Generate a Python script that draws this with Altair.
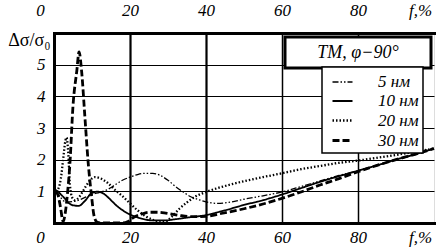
import altair as alt
import pandas as pd

# ---- data ----
series_names = ["5 нм", "10 нм", "20 нм", "30 нм"]

f5 = [0.5, 1.5, 2.5, 3.5, 5, 6.5, 8, 10, 12, 14, 16, 18, 20, 22, 24, 26, 28, 30, 32, 34, 36, 38, 40, 43, 46, 50, 55, 60, 65, 70, 75, 80, 85, 90, 95, 100]
v5 = [1.0, 0.85, 0.7, 0.66, 0.68, 0.72, 0.8, 0.9, 0.97, 1.05, 1.2, 1.35, 1.45, 1.53, 1.57, 1.57, 1.5, 1.35, 1.15, 0.98, 0.83, 0.74, 0.67, 0.62, 0.65, 0.75, 0.86, 0.98, 1.15, 1.33, 1.5, 1.65, 1.82, 2.0, 2.17, 2.35]

f10 = [0.3, 1, 2, 3, 4, 5, 6.5, 8, 10, 11.5, 13, 14.5, 16, 17.5, 19, 21, 23, 26, 29, 32, 35, 40, 45, 50, 55, 60, 65, 70, 75, 80, 85, 90, 95, 100]
v10 = [1.05, 1.0, 0.88, 0.75, 0.62, 0.56, 0.54, 0.68, 0.95, 0.99, 0.93, 0.78, 0.6, 0.45, 0.33, 0.22, 0.14, 0.08, 0.08, 0.12, 0.17, 0.25, 0.4, 0.57, 0.72, 0.9, 1.1, 1.3, 1.48, 1.65, 1.82, 2.0, 2.17, 2.35]

f20 = [0.5, 1.2, 1.8, 2.4, 3.0, 3.3, 3.7, 4.2, 4.8, 5.5, 6.5, 7.5, 8.5, 9.5, 10.8, 12, 14, 16, 18, 20, 22, 24, 26, 28, 29.5, 31, 33, 35, 37, 40, 43, 46, 50, 55, 60, 65, 70, 75, 80, 85, 90, 95, 100]
v20 = [1.0, 1.1, 1.4, 2.0, 2.6, 2.7, 2.3, 1.2, 0.8, 0.72, 0.8, 0.98, 1.18, 1.35, 1.45, 1.42, 1.28, 1.05, 0.85, 0.62, 0.4, 0.22, 0.1, 0.03, 0.05, 0.2, 0.45, 0.65, 0.82, 0.98, 1.1, 1.2, 1.32, 1.45, 1.57, 1.7, 1.8, 1.9, 1.97, 2.06, 2.15, 2.25, 2.35]

f30 = [0.3, 1, 1.7, 2.4, 3.0, 3.6, 4.2, 5, 6, 6.6, 7.3, 8.1, 9, 9.9, 10.5, 11.3, 12.5, 15, 18, 19.5, 21, 23, 25, 27, 29, 31, 33, 36, 40, 44, 50, 55, 60, 65, 70, 75, 80, 85, 90, 95, 100]
v30 = [1.0, 0.9, 0.5, 0.05, 0.35, 1.0, 1.9, 3.7, 4.8, 5.4, 4.75, 3.4, 1.9, 0.83, 0.25, 0.03, 0.0, 0.0, 0.0, 0.05, 0.18, 0.28, 0.34, 0.34, 0.32, 0.28, 0.24, 0.2, 0.21, 0.3, 0.45, 0.6, 0.78, 0.98, 1.2, 1.4, 1.62, 1.82, 2.0, 2.17, 2.35]

x_ticks = [0, 20, 40, 60, 80, 100]
y_ticks = [1, 2, 3, 4, 5]
x_unit_label = "f,%"
y_title = "Δσ/σ₀"
box_title = "TM, φ−90°"

rows = []
for name, fs, vs in zip(series_names, [f5, f10, f20, f30], [v5, v10, v20, v30]):
    for fv, vv in zip(fs, vs):
        rows.append({"f": fv, "v": vv, "s": name})
df = pd.DataFrame(rows)

FONT = "Liberation Serif"
label_expr = f"datum.value == 100 ? '{x_unit_label}' : datum.label"
edge_offset = {"condition": {"test": "datum.value === 0 || datum.value === 100", "value": -14}, "value": 0}

xscale = alt.Scale(domain=[0, 100], nice=False)
yscale = alt.Scale(domain=[0, 6], nice=False)

dash_range = [[6, 2, 1.5, 2, 1.5, 2], [1, 0], [1.5, 2], [7, 3]]
width_range = [1.3, 2.8, 1.4, 1.6]

leg = alt.Legend(
    orient="none", legendX=268, legendY=34, title=None,
    symbolType="stroke", symbolSize=400, symbolStrokeColor="black", symbolOffset=5,
    labelFont=FONT, labelFontStyle="italic", labelFontSize=17, labelColor="black",
    labelOffset=24, padding=4, rowPadding=-2,
    strokeColor="black", fillColor="white",
)

y_axis = alt.Axis(
    orient="left", values=y_ticks, ticks=False,
    labelFont=FONT, labelFontStyle="italic", labelFontSize=17, labelColor="black",
    labelPadding=9, domainColor="black", domainWidth=3, domainCap="square",
    grid=True, gridColor="black", gridWidth=1.2,
    title=y_title, titleAngle=0, titleX=-4, titleY=7, titleAlign="right",
    titleBaseline="middle", titleFont=FONT, titleFontSize=18, titleFontWeight="normal",
    titleColor="black",
)

lines = alt.Chart(df).mark_line(color="black", interpolate="monotone").encode(
    x=alt.X("f:Q", scale=xscale, axis=alt.Axis(
        orient="bottom", values=x_ticks, labelExpr=label_expr, ticks=False,
        labelFont=FONT, labelFontStyle="italic", labelFontSize=17, labelColor="black",
        labelPadding=6, labelFlush=False, labelAlign="center", labelOffset=edge_offset,
        domainColor="black", domainWidth=3, domainCap="square",
        grid=True, gridColor="black",
        gridOpacity={"condition": {"test": "datum.value === 0 || datum.value === 100", "value": 0}, "value": 1},
        gridWidth={"condition": {"test": "datum.value <= 40", "value": 2.2}, "value": 1.5},
        title=None, labelOverlap=False,
    )),
    y=alt.Y("v:Q", scale=yscale, axis=y_axis),
    strokeDash=alt.StrokeDash("s:N", sort=series_names,
                              scale=alt.Scale(domain=series_names, range=dash_range), legend=leg),
    strokeWidth=alt.StrokeWidth("s:N", sort=series_names,
                                scale=alt.Scale(domain=series_names, range=width_range), legend=leg),
    detail="s:N",
)

top_axis = alt.Chart(df).mark_line(strokeOpacity=0).encode(
    x=alt.X("f:Q", scale=xscale, axis=alt.Axis(
        orient="top", values=x_ticks, labelExpr=label_expr, ticks=False,
        labelFont=FONT, labelFontStyle="italic", labelFontSize=17, labelColor="black",
        labelPadding=14, labelFlush=False, labelAlign="center", labelOffset=edge_offset,
        domainColor="black", domainWidth=3, domainCap="square",
        grid=False, title=None, labelOverlap=False,
    )),
    y=alt.Y("v:Q", scale=yscale, axis=y_axis),
    detail="s:N",
)

box_df = pd.DataFrame({"t": [box_title]})
box = alt.Chart(box_df).mark_rect(fill="white", stroke="black", strokeWidth=3).encode(
    x=alt.value(231), x2=alt.value(377), y=alt.value(4), y2=alt.value(35)
)
box_text = alt.Chart(box_df).mark_text(
    font=FONT, fontStyle="italic", fontSize=18, color="black", align="center", baseline="middle"
).encode(text="t:N", x=alt.value(304), y=alt.value(20))

chart = alt.layer(lines, top_axis, box, box_text).properties(
    width=380, height=190, autosize="none",
    padding={"left": 54, "top": 33, "right": 2, "bottom": 26},
).configure_view(stroke=None).configure(background="white").configure_legend(
    strokeWidth=1.5
).configure_axis(labelFont=FONT, labelFontStyle="italic", labelColor="black")

chart.save("out.html", embed_options={"renderer": "svg", "actions": False})
